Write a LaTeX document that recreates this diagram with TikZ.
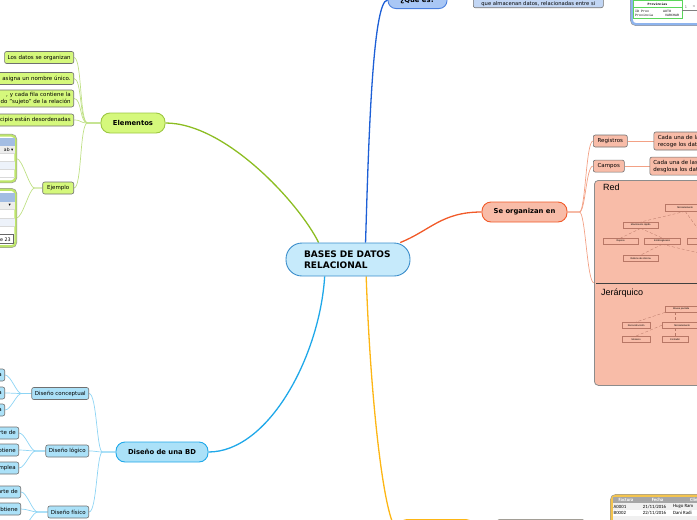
\documentclass[tikz,border=0pt]{standalone}
\usepackage{fontspec}
\setmainfont{DejaVu Sans}
\newfontfamily\arialfont{Liberation Sans}
\newfontfamily\calfont{Carlito}
\newfontfamily\monofont{Liberation Mono}
\usetikzlibrary{positioning,backgrounds}

\definecolor{rootfill}{HTML}{C6EAFB}
\definecolor{rootline}{HTML}{3A8DCB}
\definecolor{elemline}{HTML}{8CBD22}
\definecolor{elemfill}{HTML}{D5F87C}
\definecolor{elemtwig}{HTML}{BFE085}
\definecolor{elempic}{HTML}{BEE66A}
\definecolor{queline}{HTML}{1D5FD6}
\definecolor{quefill}{HTML}{A9C7F5}
\definecolor{quebox}{HTML}{C2D6F4}
\definecolor{quepic}{HTML}{8EB4EE}
\definecolor{orgline}{HTML}{F15A29}
\definecolor{orgfill}{HTML}{F8BCA8}
\definecolor{orgtwig}{HTML}{F3A185}
\definecolor{minidraw}{HTML}{B87766}
\definecolor{bdline}{HTML}{1FA8E9}
\definecolor{bdfill}{HTML}{ABE1F8}
\definecolor{bdtwig}{HTML}{8DD4F4}
\definecolor{yelline}{HTML}{FDB614}
\definecolor{yelfill}{HTML}{FFE7A0}
\definecolor{yelpic}{HTML}{F4C44E}
\definecolor{leafline}{HTML}{707070}
\definecolor{tabblue}{HTML}{A3BDE3}
\definecolor{tabrow}{HTML}{EDF2FA}
\definecolor{provgreen}{HTML}{5AD65A}

\begin{document}
\begin{tikzpicture}[x=1pt,y=-1pt,
    root/.style={draw=rootline,fill=rootfill,line width=0.9pt,rounded corners=16pt,minimum width=124pt,minimum height=33pt,text width=88pt,align=left,font=\fontsize{9}{11.5}\selectfont\bfseries},
    topic/.style={line width=0.9pt,rounded corners=9pt,minimum height=20pt,font=\fontsize{6.8}{8}\selectfont\bfseries},
    leaf/.style={draw=leafline,line width=0.6pt,rounded corners=2pt,minimum height=12pt,inner xsep=3pt,inner ysep=1pt,font=\fontsize{5.5}{7}\selectfont},
    frame/.style={line width=2.2pt,rounded corners=4pt,fill=white,preaction={draw=black!40,line width=3.4pt}},
    branch/.style={line width=1.3pt},
    twig/.style={line width=0.7pt},
    mini/.style={draw=minidraw,line width=0.35pt,inner sep=0pt,anchor=north west,font=\arialfont\fontsize{2.4}{2.8}\selectfont},
    minilink/.style={draw=minidraw,line width=0.3pt,densely dashed},
    cell/.style={font=\calfont\fontsize{4.8}{5.5}\selectfont,inner sep=0pt},
    prov/.style={font=\monofont\fontsize{3.3}{4}\selectfont,inner sep=0pt,anchor=west}
  ]
  \useasboundingbox (0,0) rectangle (697,520);
  \clip (0,0) rectangle (697,520);

  \node[root] (root) at (348,259.5) {BASES DE DATOS\\RELACIONAL};

  % Elementos
  \node[topic,draw=elemline!85,fill=elemfill,minimum width=64pt] (elem) at (133,123) {Elementos};
  \node[leaf,fill=elemfill,anchor=east] (datos) at (74,57.5) {Los datos se organizan};
  \node[leaf,fill=elemfill,anchor=east,text width=80pt,align=right] (nombre) at (74,78.5) {asigna un nombre único.};
  \node[leaf,fill=elemfill,anchor=east,text width=80pt,align=right,minimum height=17pt] (fila) at (74,98.5) {, y cada fila contiene la\hspace*{5pt}\\do "sujeto" de la relación\hspace*{1pt}};
  \node[leaf,fill=elemfill,anchor=east,text width=80pt,align=right] (desorden) at (74,120) {cipio están desordenadas};
  \node[leaf,fill=elemfill,anchor=east,minimum width=31pt] (ejemplo) at (74,188) {Ejemplo};
  \node[frame,draw=elempic,anchor=east,minimum width=40pt,minimum height=46pt] (tabla1) at (16.5,158.5) {};
  \node[frame,draw=elempic,anchor=east,minimum width=40pt,minimum height=56.5pt] (tabla2) at (16.5,218) {};
  \fill[tabblue] (-25,138) rectangle (14.8,146);
  \fill[black!7] (-25,146) rectangle (14.8,153);
  \fill[tabrow] (-25,161) rectangle (14.8,169);
  \draw[black!15,line width=0.4pt] (-25,153) -- (14.8,153) (-25,161) -- (14.8,161) (-25,169) -- (14.8,169) (-25,177) -- (14.8,177);
  \node[anchor=east,inner sep=0pt,font=\fontsize{4.5}{5}\selectfont] (cab1) at (13.5,149.5) {ab ▾};
  \fill[tabblue] (-25,192.5) rectangle (14.8,202);
  \fill[black!7] (-25,202) rectangle (14.8,209);
  \fill[tabrow] (-25,218) rectangle (14.8,226);
  \draw[black!15,line width=0.4pt] (-25,209) -- (14.8,209) (-25,218) -- (14.8,218) (-25,226) -- (14.8,226) (-25,234) -- (14.8,234);
  \draw[black!60,line width=0.5pt] (-25,234.5) rectangle (13.5,243.5);
  \node[anchor=east,inner sep=0pt,font=\fontsize{4.5}{5}\selectfont] (cab2) at (11,205.5) {▾};
  \node[anchor=east,inner sep=0pt,font=\fontsize{4.8}{5}\selectfont] (celda) at (11,239.5) {e 23};

  % Diseño de una BD
  \node[topic,draw=bdline,fill=bdfill,minimum width=92pt] (diseno) at (162,452) {Diseño de una BD};
  \node[leaf,fill=bdfill,anchor=east] (concep) at (89,393.5) {Diseño conceptual};
  \node[leaf,fill=bdfill,anchor=east] (logico) at (89,451) {Diseño lógico};
  \node[leaf,fill=bdfill,anchor=east] (fisico) at (89,512) {Diseño físico};
  \node[leaf,fill=bdfill,anchor=east,text width=30pt,align=right] (concA) at (5,375) {a};
  \node[leaf,fill=bdfill,anchor=east,text width=30pt,align=right] (concB) at (5,393) {a};
  \node[leaf,fill=bdfill,anchor=east,text width=30pt,align=right] (concC) at (5,410) {a};
  \node[leaf,fill=bdfill,anchor=east,text width=30pt,align=right] (logA) at (19,433) {parte de};
  \node[leaf,fill=bdfill,anchor=east,text width=30pt,align=right] (logB) at (19,450) {obtiene};
  \node[leaf,fill=bdfill,anchor=east,text width=30pt,align=right] (logC) at (19,468) {emplea};
  \node[leaf,fill=bdfill,anchor=east,text width=30pt,align=right] (fisA) at (21,492) {parte de};
  \node[leaf,fill=bdfill,anchor=east,text width=30pt,align=right] (fisB) at (21,509) {obtiene};
  \coordinate (fisC) at (21,528);

  % Se organizan en
  \node[topic,draw=orgline,fill=orgfill,minimum width=85pt] (organiza) at (524.5,212) {Se organizan en};
  \node[leaf,fill=orgfill,anchor=west,minimum width=34pt] (registros) at (593,141) {Registros};
  \node[leaf,fill=orgfill,below=12.5pt of registros.south west,anchor=north west,minimum width=31pt] (campos) {Campos};
  \node[leaf,fill=orgfill,right=26pt of registros,text width=62pt,align=left,minimum height=18pt,inner xsep=4pt] (regtxt) {Cada una de la\\recoge los dat};
  \node[leaf,fill=orgfill,right=25pt of campos,text width=62pt,align=left,minimum height=18pt,inner xsep=3.5pt] (camtxt) {Cada una de las\\desglosa los dat};
  \node[draw=black!45,fill=orgfill,line width=0.8pt,rounded corners=4pt,anchor=north west,minimum width=150pt,minimum height=205pt] (tipos) at (594,180) {};
  \node[anchor=west,inner sep=0pt,font=\arialfont\fontsize{9}{10}\selectfont] (red) at (603,187.5) {Red};
  \draw[black!75,line width=0.9pt] (596,283) -- (720,283);
  \node[anchor=west,inner sep=0pt,font=\arialfont\fontsize{9}{10}\selectfont] (jerarquico) at (601,293) {Jerárquico};
  \node[mini,minimum width=40pt,minimum height=7pt] (m1) at (665,204) {Microelemento};
  \node[mini,minimum width=35pt,minimum height=6pt] (m2) at (623,222) {Movimiento rápido};
  \node[mini,minimum width=35pt,minimum height=6pt] (m3) at (603,238) {Reposo};
  \node[mini,minimum width=36pt,minimum height=6pt] (m4) at (644,238) {Embriogénesis};
  \node[mini,minimum width=35pt,minimum height=6pt] (m5) at (687,238) {Sueño};
  \node[mini,minimum width=35pt,minimum height=6pt] (m6) at (623,255) {Relleno de silicona};
  \coordinate (redfin) at (712,256);
  \draw[minilink] (m1.south) -- (m2.north);
  \draw[minilink] (m1.south) -- (m5.north);
  \draw[minilink] (m2.south) -- (m3.north);
  \draw[minilink] (m2.south) -- (m4.north);
  \draw[minilink] (m4.south) -- (m6.north);
  \draw[minilink] (m4.south) -- (redfin);
  \node[mini,minimum width=32pt,minimum height=6pt] (j1) at (665,306) {Mouse pantalla};
  \node[mini,minimum width=40pt,minimum height=6pt] (j2) at (662,322) {Microelemento};
  \node[mini,minimum width=28pt,minimum height=6pt] (j3) at (622,322) {Reconstrucción};
  \node[mini,minimum width=28pt,minimum height=6pt] (j4) at (622,336) {Mosaico};
  \node[mini,minimum width=26pt,minimum height=6pt] (j5) at (662,336) {Contador};
  \draw[minilink] (j1.south -| j5.north) -- (j2.north -| j5.north);
  \draw[minilink] (j1.south west) -- (j3.north);
  \draw[minilink] (j2.south -| j5.north) -- (j5.north);
  \draw[minilink] (j2.west) -- (j4.north);

  % ¿Qué es?
  \node[topic,draw=queline!80,fill=quefill,anchor=south,minimum width=59pt,minimum height=17pt,rounded corners=8pt] (quees) at (417.5,9) {¿Qué es?};
  \node[leaf,fill=quebox,anchor=south west,minimum width=130pt,align=center,font=\fontsize{5.2}{7}\selectfont] (definicion) at (473,8) {\strut\\que almacenan datos, relacionadas entre si};
  \node[frame,draw=quepic,anchor=south west,minimum width=100pt,minimum height=60pt] (provincias) at (630.7,25.3) {};
  \draw[provgreen,line width=0.6pt] (633,0.5) rectangle (682,18.5) (633,7) -- (682,7);
  \node[prov,anchor=center,font=\monofont\bfseries\fontsize{3.3}{4}\selectfont] (provhead) at (657.5,4) {Provincias};
  \node[prov] (provid) at (635,11) {ID Prov};
  \node[prov] (provauto) at (663,11) {AUTO};
  \node[prov] (provnom) at (635,15.5) {Provincia};
  \node[prov] (provtipo) at (665,15.5) {VARCHAR};
  \draw[black!50,line width=0.5pt] (682,10) -- (720,10);
  \node[inner sep=0pt,font=\fontsize{3.5}{4}\selectfont,text=black!60] (uno) at (686,7) {1};
  \node[inner sep=0pt,font=\fontsize{3.5}{4}\selectfont,text=black!60] (muchos) at (694,6.5) {∞};

  % rama amarilla
  \node[topic,draw=yelline,fill=yelfill,anchor=north west,minimum width=76pt] (practica) at (398,519) {};
  \node[leaf,fill=yelfill,anchor=north west,minimum width=87pt,minimum height=14pt] (ejfac) at (497,519.3) {};
  \node[frame,draw=yelpic,anchor=north west,minimum width=100pt,minimum height=80pt] (factura) at (610.7,494.7) {};
  \fill[black!35] (613,497) rectangle (720,503);
  \fill[black!6] (613,503) rectangle (720,509.5);
  \fill[black!6] (613,516) rectangle (720,522.5);
  \node[cell,text=white,font=\calfont\bfseries\fontsize{4.8}{5.5}\selectfont] (hfac) at (626,500) {Factura};
  \node[cell,text=white,font=\calfont\bfseries\fontsize{4.8}{5.5}\selectfont] (hfecha) at (657.5,500) {Fecha};
  \node[cell,text=white,anchor=west,font=\calfont\bfseries\fontsize{4.8}{5.5}\selectfont] (hcli) at (690,500) {Client};
  \node[cell,anchor=west] (f1) at (613.5,506.5) {A0001};
  \node[cell] (d1) at (654.5,506.5) {21/11/2016};
  \node[cell,anchor=west] (c1) at (673,506.5) {Hugo Ram};
  \node[cell,anchor=west] (f2) at (613.5,513) {B0002};
  \node[cell] (d2) at (654.5,513) {22/11/2016};
  \node[cell,anchor=west] (c2) at (673,513) {Dani Radi};

  \begin{scope}[on background layer]
    \clip (0,0) rectangle (697,520);
    \draw[branch,elemline] (root.150) .. controls +(-20,-40) and +(60,0) .. (elem.east);
    \draw[branch,queline] (root.44) .. controls +(3,-100) and +(-15,0) .. (quees.west);
    \draw[branch,orgline] (root.18) .. controls +(30,-12) and +(-40,0) .. (organiza.west);
    \draw[branch,bdline] (root.216) .. controls +(-5,80) and +(60,0) .. (diseno.east);
    \draw[branch,yelline] (root.317) .. controls +(5,140) and +(-12,0) .. (practica.west);
    \draw[twig,elemtwig] (elem.west) -- ++(-13,0) .. controls +(-8,0) and +(8,0) .. (datos.east);
    \draw[twig,elemtwig] (elem.west) -- ++(-13,0) .. controls +(-8,0) and +(8,0) .. (nombre.east);
    \draw[twig,elemtwig] (elem.west) -- ++(-13,0) .. controls +(-8,0) and +(8,0) .. (fila.east);
    \draw[twig,elemtwig] (elem.west) -- ++(-13,0) .. controls +(-8,0) and +(8,0) .. (desorden.east);
    \draw[twig,elemtwig] (elem.west) -- ++(-13,0) .. controls +(-8,0) and +(8,0) .. (ejemplo.east);
    \draw[twig,elemtwig] (ejemplo.west) -- ++(-8,0) .. controls +(-5,0) and +(6,0) .. (tabla1.east);
    \draw[twig,elemtwig] (ejemplo.west) -- ++(-8,0) .. controls +(-5,0) and +(6,0) .. (tabla2.east);
    \draw[twig,bdtwig] (diseno.west) -- ++(-13,0) .. controls +(-6,0) and +(8,0) .. (concep.east);
    \draw[twig,bdtwig] (diseno.west) -- ++(-13,0) .. controls +(-6,0) and +(8,0) .. (logico.east);
    \draw[twig,bdtwig] (diseno.west) -- ++(-13,0) .. controls +(-6,0) and +(8,0) .. (fisico.east);
    \draw[twig,bdtwig] (concep.west) -- ++(-10,0) .. controls +(-5,0) and +(6,0) .. (concA.east);
    \draw[twig,bdtwig] (concep.west) -- ++(-10,0) .. controls +(-5,0) and +(6,0) .. (concB.east);
    \draw[twig,bdtwig] (concep.west) -- ++(-10,0) .. controls +(-5,0) and +(6,0) .. (concC.east);
    \draw[twig,bdtwig] (logico.west) -- ++(-10,0) .. controls +(-5,0) and +(6,0) .. (logA.east);
    \draw[twig,bdtwig] (logico.west) -- ++(-10,0) .. controls +(-5,0) and +(6,0) .. (logB.east);
    \draw[twig,bdtwig] (logico.west) -- ++(-10,0) .. controls +(-5,0) and +(6,0) .. (logC.east);
    \draw[twig,bdtwig] (fisico.west) -- ++(-10,0) .. controls +(-5,0) and +(6,0) .. (fisA.east);
    \draw[twig,bdtwig] (fisico.west) -- ++(-10,0) .. controls +(-5,0) and +(6,0) .. (fisB.east);
    \draw[twig,bdtwig] (fisico.west) -- ++(-10,0) .. controls +(-5,0) and +(6,0) .. (fisC);
    \draw[twig,orgtwig] (organiza.east) -- ++(12,0) .. controls +(6,0) and +(-7,0) .. (registros.west);
    \draw[twig,orgtwig] (organiza.east) -- ++(12,0) .. controls +(6,0) and +(-7,0) .. (campos.west);
    \draw[twig,orgtwig] (organiza.east) -- ++(12,0) .. controls +(6,0) and +(-7,0) .. (tipos.west);
    \draw[twig,orgtwig] (registros) -- (regtxt);
    \draw[twig,orgtwig] (campos) -- (camtxt);
  \end{scope}
\end{tikzpicture}
\end{document}
